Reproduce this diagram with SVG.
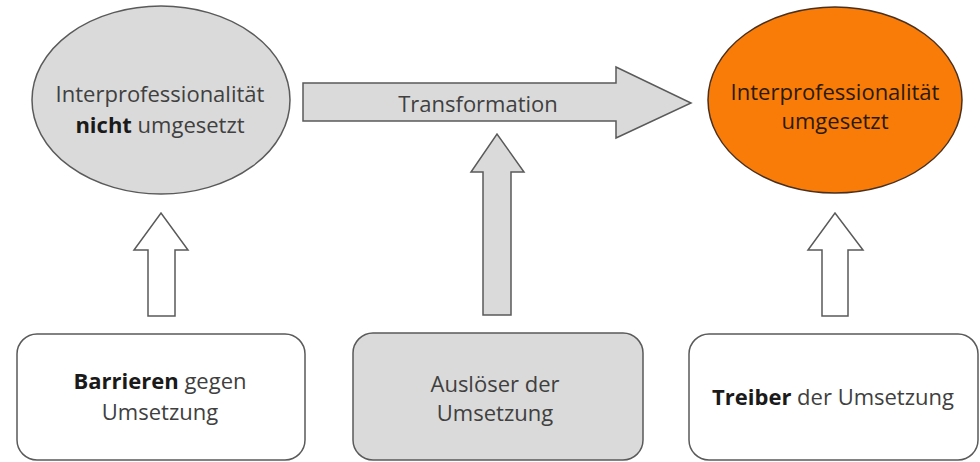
<svg xmlns="http://www.w3.org/2000/svg" width="980" height="462" viewBox="0 0 980 462">
  <style>
    .t { font-family: "Open Sans", "Liberation Sans", sans-serif; font-size: 22px; fill: #404040; text-anchor: middle; }
    .b { font-weight: bold; fill: #1a1a1a; }
    .gray { fill: #dadada; stroke: #5a5a5a; stroke-width: 1.5; }
    .white { fill: #ffffff; stroke: #5a5a5a; stroke-width: 1.5; }
  </style>
  <rect width="980" height="462" fill="#ffffff"/>
  <g id="connectors">
    <path id="arrow-transformation" class="gray" d="M303,83 L616,83 L616,67 L691,103 L616,138 L616,121 L303,121 Z"/>
    <text class="t" x="478" y="112">Transformation</text>
    <path id="arrow-left" class="white" d="M148,316 L148,250 L134,250 L161,213 L188,250 L175,250 L175,316 Z"/>
    <path id="arrow-middle" class="gray" d="M483,315 L483,172 L471,172 L497,134 L524,172 L511,172 L511,315 Z"/>
    <path id="arrow-right" class="white" d="M822,316 L822,250 L808,250 L835,213 L863,250 L848,250 L848,316 Z"/>
  </g>
  <g id="node-nicht">
    <ellipse class="gray" cx="161" cy="100" rx="129" ry="94"/>
    <text class="t" x="160" y="102">Interprofessionalität</text>
    <text class="t" x="160" y="133"><tspan class="b">nicht</tspan> umgesetzt</text>
  </g>
  <g id="node-umgesetzt">
    <ellipse cx="835" cy="100" rx="127" ry="93" fill="#f97c09" stroke="#4a3020" stroke-width="1.5"/>
    <text class="t" x="835" y="100" style="fill:#2a1a0a">Interprofessionalität</text>
    <text class="t" x="835" y="129" style="fill:#2a1a0a">umgesetzt</text>
  </g>
  <g id="node-barrieren">
    <rect class="white" x="17" y="334" width="288" height="126" rx="20"/>
    <text class="t" x="160" y="389"><tspan class="b">Barrieren</tspan> gegen</text>
    <text class="t" x="160" y="420">Umsetzung</text>
  </g>
  <g id="node-ausloeser">
    <rect class="gray" x="353" y="333" width="290" height="127" rx="20"/>
    <text class="t" x="495" y="392">Auslöser der</text>
    <text class="t" x="495" y="421">Umsetzung</text>
  </g>
  <g id="node-treiber">
    <rect class="white" x="689" y="334" width="289" height="126" rx="20"/>
    <text class="t" x="833" y="405"><tspan class="b">Treiber</tspan> der Umsetzung</text>
  </g>
</svg>
